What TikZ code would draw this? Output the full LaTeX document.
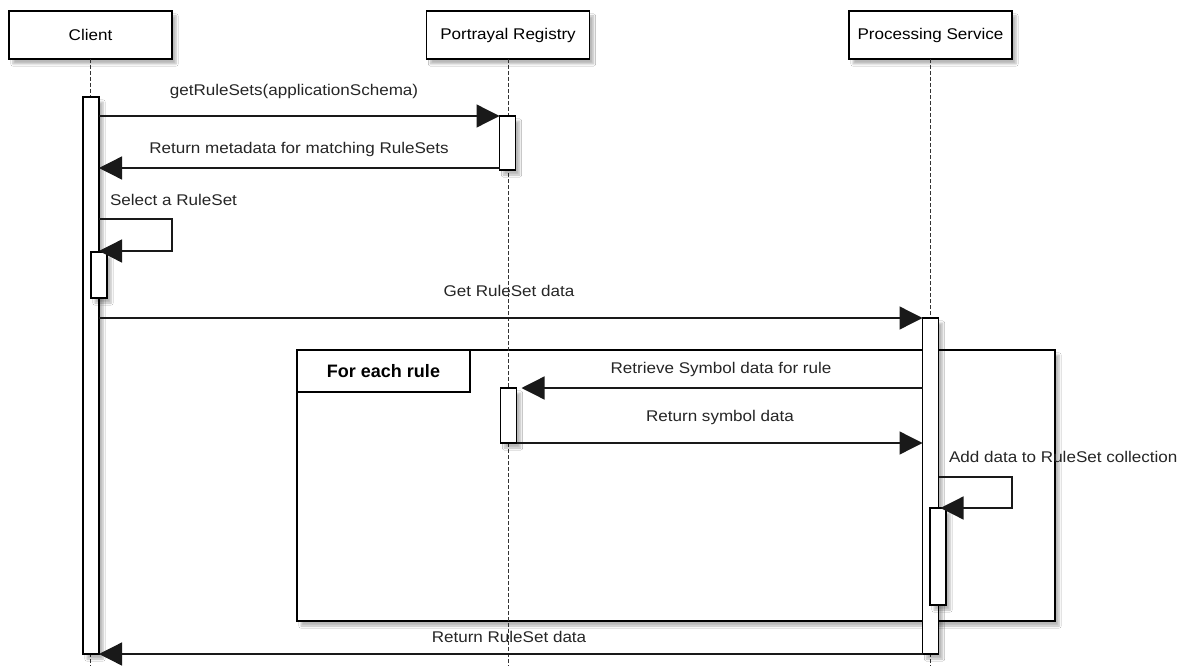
\documentclass[tikz,border=0pt]{standalone}
\usepackage{fontspec}
\setmainfont[FakeStretch=1.1]{Liberation Sans}
\usetikzlibrary{arrows.meta,shadows.blur}
\begin{document}
\begin{tikzpicture}[x=1pt,y=-1pt,
  every node/.style={inner sep=0pt, outer sep=0pt},
  lbl/.style={font=\fontsize{15.5}{18}\selectfont, text=black!85},
  shd/.style={blur shadow={shadow xshift=4pt, shadow yshift=-5pt, shadow blur steps=6, shadow opacity=28}},
  actor/.style={draw, line width=1.3pt, fill=white, minimum width=163pt, minimum height=48pt, shd, font=\fontsize{15.5}{18}\selectfont},
  actbar/.style={draw, line width=1.2pt, fill=white, minimum width=16pt, anchor=north, shd},
  lifeline/.style={draw=black!80, line width=0.9pt, dash pattern=on 4pt off 2pt},
  msg/.style={draw=black!90, line width=1.3pt, -{Triangle[length=23pt,width=23pt]}},
  loopframe/.style={draw, line width=2.8pt, fill=white, anchor=north west, minimum width=758pt, minimum height=271pt, shd},
  hdr/.style={draw, line width=2.8pt, fill=white, anchor=north west, minimum width=173pt, minimum height=42pt, font=\bfseries\fontsize{18}{20}\selectfont\addfontfeatures{FakeStretch=1.0}},
]
\useasboundingbox (0,0) rectangle (1191,666);
\fill[white] (0,0) rectangle (1191,666);

% loop frame
\node[loopframe] (loop) at (297,350) {};
\node[hdr] (loophdr) at (loop.north west) {For each rule};

% actors
\node[actor] (client) at (90.5,35) {Client};
\node[actor] (reg) at (508,35) {Portrayal Registry};
\node[actor] (proc) at (930.5,35) {Processing Service};

% lifeline ends
\coordinate (cend) at (client.south |- 0,666);
\coordinate (rend) at (reg.south |- 0,666);
\coordinate (pend) at (proc.south |- 0,666);
\draw[lifeline] (client.south) -- (cend);
\draw[lifeline] (reg.south) -- (rend);
\draw[lifeline] (proc.south) -- (pend);

% activation bars
\node[actbar, minimum height=557pt] (cb) at (91,97) {};
\node[actbar, minimum height=54pt] (rb1) at (507.5,116) {};
\node[actbar, minimum height=46pt] (csb) at (99,252) {};
\node[actbar, minimum height=336pt] (pb) at (930.5,318) {};
\node[actbar, minimum height=55pt] (rb2) at (508.5,388) {};
\node[actbar, minimum height=97pt] (psb) at (938,508) {};

% messages
\draw[msg] (cb.east |- rb1.north west) -- (rb1.north west);
\draw[msg] (rb1.west |- 0,168) -- (cb.east |- 0,168);
\draw[msg] (cb.east |- 0,219) -- (172,219) -- (172,251) -- (cb.east |- 0,251);
\draw[msg] (cb.east |- pb.north west) -- (pb.north west);
\draw[msg] (pb.west |- rb2.north east) -- ([xshift=5pt]rb2.north east);
\draw[msg] (rb2.south east) -- (pb.west |- rb2.south east);
\draw[msg] (pb.east |- 0,477) -- (1012,477) -- (1012,508) -- ([xshift=2pt]pb.east |- 0,508);
\draw[msg] (pb.west |- 0,654) -- (cb.east |- 0,654);

% labels
\node[lbl] (l1) at (294,91) {getRuleSets(applicationSchema)};
\node[lbl] (l2) at (299,149) {Return metadata for matching RuleSets};
\node[lbl, anchor=west] (l3) at (110,200) {Select a RuleSet};
\node[lbl] (l4) at (509,291) {Get RuleSet data};
\node[lbl] (l5) at (721,369) {Retrieve Symbol data for rule};
\node[lbl] (l6) at (720,417) {Return symbol data};
\node[lbl, anchor=west] (l7) at (949,457) {Add data to RuleSet collection};
\node[lbl] (l8) at (509,637) {Return RuleSet data};
\end{tikzpicture}
\end{document}
